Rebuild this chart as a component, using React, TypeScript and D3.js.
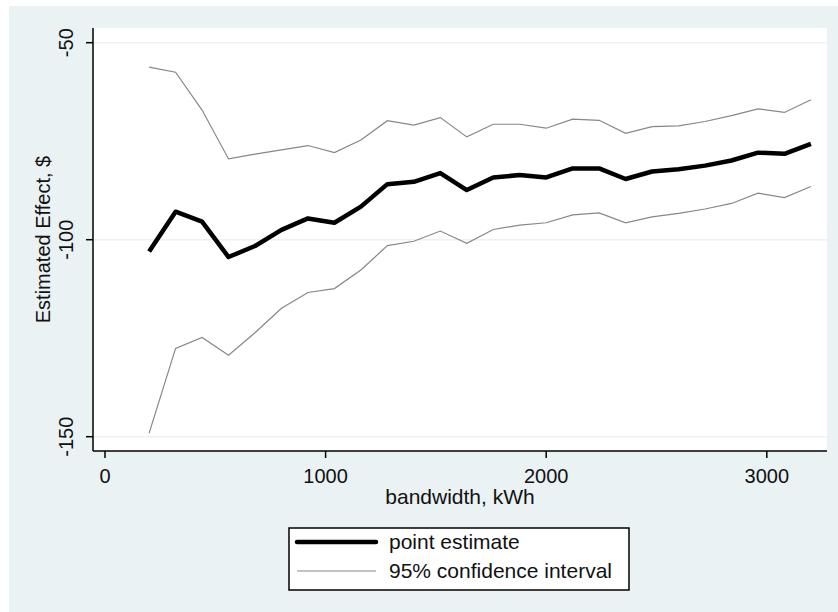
import React from 'react';
import * as d3 from 'd3';

// bandwidth values (kWh) at which the effect was estimated
const bandwidth = [200, 320, 440, 560, 680, 800, 920, 1040, 1160, 1280, 1400, 1520, 1640,
  1760, 1880, 2000, 2120, 2240, 2360, 2480, 2600, 2720, 2840, 2960, 3080, 3200];

const pointEstimate = [-103.0, -92.9, -95.4, -104.4, -101.6, -97.5, -94.6, -95.7, -91.6, -85.9,
  -85.3, -83.1, -87.4, -84.2, -83.6, -84.2, -81.9, -81.9, -84.6, -82.7, -82.1, -81.2, -79.9,
  -77.9, -78.2, -75.7];

const upperCI = [-56.2, -57.5, -67.1, -79.5, -78.3, -77.2, -76.1, -77.9, -74.7, -69.8, -70.9,
  -69.0, -73.9, -70.7, -70.7, -71.7, -69.4, -69.7, -73.0, -71.3, -71.1, -70.0, -68.5, -66.8,
  -67.7, -64.5];

const lowerCI = [-149.1, -127.6, -124.8, -129.3, -123.6, -117.4, -113.4, -112.4, -107.7, -101.5,
  -100.4, -97.8, -100.9, -97.4, -96.3, -95.7, -93.7, -93.2, -95.7, -94.2, -93.3, -92.2, -90.8,
  -88.2, -89.3, -86.5];

const xTicks = [0, 1000, 2000, 3000];
const yTicks = [-50, -100, -150];

const W = 838;
const H = 612;
const plot = { left: 93, top: 28, right: 827, bottom: 451 };
const font = '"Liberation Sans", Arial, sans-serif';
const bg = '#eaf2f3';
const ciColor = '#878787';

const App = () => {
  const x = d3.scaleLinear().domain([0, 3000]).range([105, 766.8]);
  const y = d3.scaleLinear().domain([-50, -150]).range([42.7, 436.7]);

  const line = d3.line<number>()
    .x((d, i) => x(bandwidth[i]))
    .y((d) => y(d));

  return (
    <svg width={W} height={H} style={{ position: 'absolute', left: 0, top: 0, display: 'block' }}
      fontFamily={font}>
      <rect x={0} y={0} width={W} height={H} fill="#ffffff" />
      <rect x={9} y={6} width={W - 9} height={H - 6} fill={bg} />
      <rect x={plot.left} y={plot.top} width={plot.right - plot.left} height={plot.bottom - plot.top}
        fill="#ffffff" />

      {yTicks.map((t) => (
        <line key={'g' + t} x1={plot.left} x2={plot.right} y1={y(t)} y2={y(t)}
          stroke={bg} strokeWidth={1.5} />
      ))}

      <path d={line(upperCI) || ''} fill="none" stroke={ciColor} strokeWidth={1.2} />
      <path d={line(lowerCI) || ''} fill="none" stroke={ciColor} strokeWidth={1.2} />
      <path d={line(pointEstimate) || ''} fill="none" stroke="#000" strokeWidth={4.5}
        strokeLinejoin="round" />

      {/* axes */}
      <line x1={plot.left} x2={plot.left} y1={plot.top} y2={plot.bottom} stroke="#000" strokeWidth={1.5} />
      <line x1={plot.left} x2={plot.right} y1={plot.bottom} y2={plot.bottom} stroke="#000" strokeWidth={1.5} />

      {yTicks.map((t) => (
        <g key={'y' + t}>
          <line x1={plot.left - 7} x2={plot.left} y1={y(t)} y2={y(t)} stroke="#000" strokeWidth={1.5} />
          <text transform={`translate(72.5,${y(t)}) rotate(-90)`} textAnchor="middle" fontSize={20}
            fill="#111">{t}</text>
        </g>
      ))}
      {xTicks.map((t) => (
        <g key={'x' + t}>
          <line x1={x(t)} x2={x(t)} y1={plot.bottom} y2={plot.bottom + 7} stroke="#000" strokeWidth={1.5} />
          <text x={x(t)} y={482.7} textAnchor="middle" fontSize={20} fill="#111">{t}</text>
        </g>
      ))}

      <text transform={`translate(50,${(plot.top + plot.bottom) / 2}) rotate(-90)`} textAnchor="middle"
        fontSize={20} fill="#111">Estimated Effect, $</text>
      <text x={(plot.left + plot.right) / 2} y={504} textAnchor="middle" fontSize={21} fill="#111">
        bandwidth, kWh</text>

      {/* legend */}
      <rect x={289} y={528} width={340} height={62} fill="#ffffff" stroke="#000" strokeWidth={1.5} />
      <line x1={297} x2={376} y1={542} y2={542} stroke="#000" strokeWidth={4.5} strokeLinecap="round" />
      <line x1={297} x2={376} y1={571} y2={571} stroke={ciColor} strokeWidth={1.2} />
      <text x={389} y={549} fontSize={21} fill="#111">point estimate</text>
      <text x={389} y={578} fontSize={21} fill="#111">95% confidence interval</text>
    </svg>
  );
};

export default App;
